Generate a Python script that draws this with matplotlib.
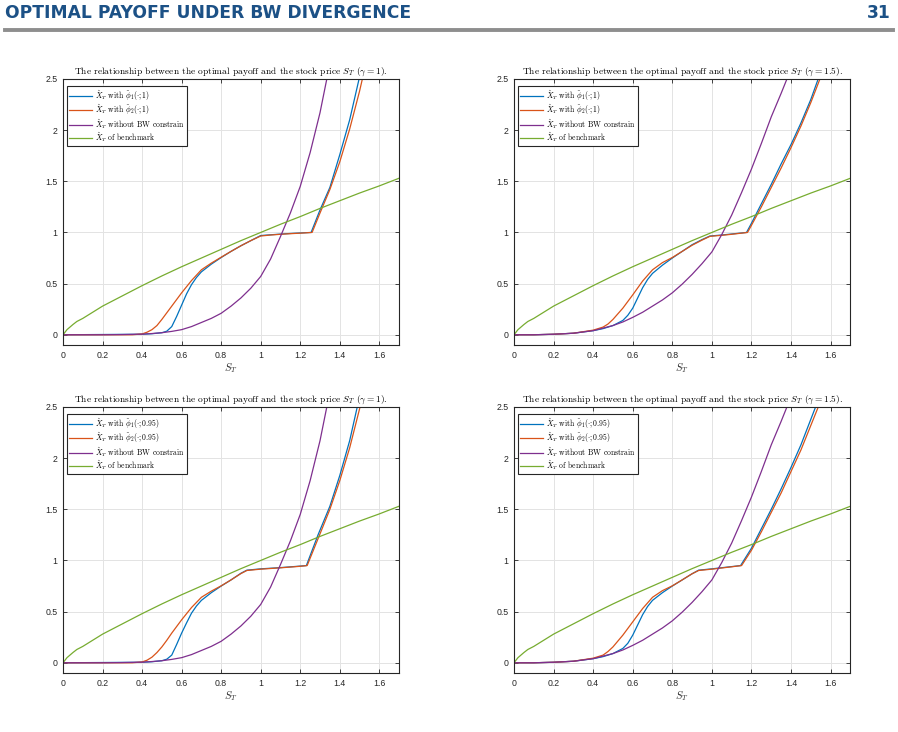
import numpy as np
import matplotlib
matplotlib.use('Agg')
import matplotlib.pyplot as plt
from matplotlib.lines import Line2D

plt.rcParams['mathtext.fontset'] = 'cm'

# benchmark payoff (same in all four panels)
bench_x = [0, 0.02, 0.05, 0.07, 0.1, 0.15, 0.2, 0.3, 0.4, 0.5, 0.6, 0.7, 0.8, 0.9, 1.0,
           1.1, 1.2, 1.3, 1.4, 1.5, 1.6, 1.7]
bench_y = [0, 0.05, 0.10, 0.13, 0.16, 0.22, 0.28, 0.38, 0.48, 0.575, 0.665, 0.75, 0.835,
           0.92, 1.0, 1.08, 1.155, 1.235, 1.31, 1.385, 1.455, 1.53]

# payoff without BW constraint, gamma = 1 and gamma = 1.5
free1_x = [0, 0.2, 0.3, 0.4, 0.45, 0.5, 0.55, 0.6, 0.65, 0.7, 0.75, 0.8, 0.85, 0.9, 0.95, 1.0,
           1.05, 1.1, 1.15, 1.2, 1.25, 1.3, 1.35]
free1_y = [0, 0.0, 0.002, 0.006, 0.012, 0.02, 0.033, 0.05, 0.08, 0.12, 0.16, 0.21, 0.28, 0.36,
           0.455, 0.57, 0.74, 0.96, 1.19, 1.45, 1.78, 2.17, 2.65]
free2_x = [0, 0.1, 0.2, 0.3, 0.4, 0.5, 0.55, 0.6, 0.65, 0.7, 0.75, 0.8, 0.85, 0.9, 0.95, 1.0,
           1.05, 1.1, 1.15, 1.2, 1.25, 1.3, 1.35, 1.4]
free2_y = [0, 0.0, 0.005, 0.015, 0.04, 0.09, 0.125, 0.17, 0.22, 0.28, 0.34, 0.41, 0.495, 0.59,
           0.695, 0.81, 0.98, 1.17, 1.39, 1.62, 1.87, 2.13, 2.36, 2.6]

# gamma = 1, level 1
b1_x = [0, 0.4, 0.45, 0.5, 0.525, 0.55, 0.575, 0.6, 0.625, 0.65, 0.675, 0.7, 0.75, 0.8, 0.85,
        0.9, 0.95, 1.0, 1.05, 1.1, 1.15, 1.2, 1.255, 1.3, 1.35, 1.4, 1.45, 1.5]
b1_y = [0, 0.005, 0.01, 0.02, 0.035, 0.08, 0.18, 0.29, 0.40, 0.49, 0.56, 0.615, 0.69, 0.755,
        0.815, 0.87, 0.92, 0.97, 0.977, 0.984, 0.99, 0.995, 1.0, 1.22, 1.44, 1.76, 2.1, 2.52]
o1_x = [0, 0.35, 0.4, 0.425, 0.45, 0.475, 0.5, 0.525, 0.55, 0.6, 0.65, 0.7, 0.75, 0.8, 0.85,
        0.9, 0.95, 1.0, 1.05, 1.1, 1.15, 1.2, 1.26, 1.3, 1.35, 1.4, 1.45, 1.5, 1.55]
o1_y = [0, 0.0, 0.008, 0.025, 0.05, 0.09, 0.15, 0.215, 0.28, 0.41, 0.53, 0.635, 0.70, 0.758,
        0.815, 0.87, 0.92, 0.965, 0.975, 0.982, 0.988, 0.993, 1.0, 1.19, 1.42, 1.69, 2.01, 2.38,
        2.8]

# gamma = 1.5, level 1
b2_x = [0, 0.1, 0.2, 0.3, 0.4, 0.45, 0.5, 0.55, 0.575, 0.6, 0.625, 0.65, 0.675, 0.7, 0.75,
        0.8, 0.85, 0.9, 0.95, 0.99, 1.05, 1.1, 1.175, 1.2, 1.25, 1.3, 1.35, 1.4, 1.45, 1.5, 1.55]
b2_y = [0, 0, 0.005, 0.015, 0.04, 0.06, 0.09, 0.14, 0.19, 0.26, 0.36, 0.46, 0.54, 0.6, 0.68,
        0.75, 0.815, 0.88, 0.93, 0.965, 0.975, 0.985, 1.0, 1.09, 1.28, 1.47, 1.67, 1.86, 2.07,
        2.3, 2.57]
o2_x = [0, 0.1, 0.2, 0.3, 0.4, 0.45, 0.475, 0.5, 0.55, 0.6, 0.65, 0.7, 0.75, 0.8, 0.85, 0.9,
        0.95, 0.99, 1.05, 1.1, 1.18, 1.2, 1.25, 1.3, 1.35, 1.4, 1.45, 1.5, 1.55, 1.6]
o2_y = [0, 0, 0.005, 0.015, 0.045, 0.075, 0.105, 0.15, 0.26, 0.39, 0.525, 0.635, 0.705, 0.755,
        0.815, 0.875, 0.925, 0.962, 0.972, 0.982, 1.0, 1.07, 1.25, 1.44, 1.63, 1.83, 2.04, 2.27,
        2.52, 2.8]

# gamma = 1, level 0.95
b3_x = [0, 0.4, 0.45, 0.5, 0.525, 0.55, 0.575, 0.6, 0.625, 0.65, 0.675, 0.7, 0.75, 0.8, 0.85,
        0.9, 0.93, 1.0, 1.1, 1.2, 1.231, 1.29, 1.35, 1.4, 1.45, 1.5]
b3_y = [0, 0.005, 0.01, 0.02, 0.035, 0.075, 0.18, 0.29, 0.39, 0.485, 0.555, 0.61, 0.685, 0.75,
        0.81, 0.875, 0.905, 0.918, 0.93, 0.945, 0.95, 1.25, 1.53, 1.83, 2.17, 2.6]
o3_x = [0, 0.35, 0.4, 0.425, 0.45, 0.475, 0.5, 0.525, 0.55, 0.6, 0.65, 0.7, 0.75, 0.8, 0.85,
        0.9, 0.93, 1.0, 1.1, 1.2, 1.235, 1.3, 1.35, 1.4, 1.45, 1.5, 1.55]
o3_y = [0, 0, 0.008, 0.025, 0.055, 0.1, 0.155, 0.22, 0.29, 0.42, 0.54, 0.64, 0.7, 0.752, 0.81,
        0.872, 0.902, 0.915, 0.928, 0.943, 0.95, 1.26, 1.5, 1.78, 2.1, 2.48, 2.9]

# gamma = 1.5, level 0.95
b4_x = [0, 0.1, 0.2, 0.3, 0.4, 0.45, 0.5, 0.55, 0.575, 0.6, 0.625, 0.65, 0.675, 0.7, 0.75,
        0.8, 0.85, 0.9, 0.933, 1.0, 1.1, 1.145, 1.2, 1.25, 1.3, 1.35, 1.4, 1.45, 1.5, 1.55]
b4_y = [0, 0, 0.005, 0.015, 0.04, 0.06, 0.09, 0.14, 0.19, 0.27, 0.37, 0.47, 0.55, 0.61, 0.685,
        0.75, 0.81, 0.87, 0.905, 0.918, 0.94, 0.95, 1.12, 1.31, 1.5, 1.7, 1.91, 2.13, 2.38, 2.63]
o4_x = [0, 0.1, 0.2, 0.3, 0.4, 0.45, 0.475, 0.5, 0.55, 0.6, 0.65, 0.7, 0.75, 0.8, 0.85, 0.9,
        0.933, 1.0, 1.1, 1.15, 1.2, 1.25, 1.3, 1.35, 1.4, 1.45, 1.5, 1.55, 1.6]
o4_y = [0, 0, 0.005, 0.015, 0.045, 0.075, 0.11, 0.155, 0.27, 0.40, 0.53, 0.64, 0.705, 0.752,
        0.81, 0.87, 0.902, 0.915, 0.938, 0.95, 1.1, 1.28, 1.47, 1.66, 1.87, 2.08, 2.32, 2.56, 2.82]

gammas = ['1', '1.5', '1', '1.5']
levels = ['1', '1', '0.95', '0.95']
blues = [(b1_x, b1_y), (b2_x, b2_y), (b3_x, b3_y), (b4_x, b4_y)]
oranges = [(o1_x, o1_y), (o2_x, o2_y), (o3_x, o3_y), (o4_x, o4_y)]
frees = [(free1_x, free1_y), (free2_x, free2_y), (free1_x, free1_y), (free2_x, free2_y)]

xticks = [0, 0.2, 0.4, 0.6, 0.8, 1, 1.2, 1.4, 1.6]
xticklabels = ['0', '0.2', '0.4', '0.6', '0.8', '1', '1.2', '1.4', '1.6']
yticks = [0, 0.5, 1, 1.5, 2, 2.5]
yticklabels = ['0', '0.5', '1', '1.5', '2', '2.5']

positions = [[0.0702, 0.5287, 0.3742, 0.3634], [0.5724, 0.5287, 0.3746, 0.3634],
             [0.0702, 0.0806, 0.3742, 0.3634], [0.5724, 0.0806, 0.3746, 0.3634]]

c_blue, c_orange, c_purple, c_green = '#0072BD', '#D95319', '#7E2F8E', '#77AC30'
axcol = '#262626'

fig = plt.figure(figsize=(8.98, 7.32), dpi=100)

# slide header
fig.text(0.006, 0.982, 'OPTIMAL PAYOFF UNDER BW DIVERGENCE', color='#1c5186',
         fontsize=12.3, fontweight='bold', family='DejaVu Sans', va='center', ha='left')
fig.text(0.992, 0.982, '31', color='#1c5186', fontsize=12.3, fontweight='bold',
         family='DejaVu Sans', va='center', ha='right')
fig.add_artist(Line2D([0.006, 0.994], [0.9585, 0.9585], color='#8e8e8e', lw=2.8))

for i in range(4):
    ax = fig.add_axes(positions[i])
    fx, fy = frees[i]
    bx, by = blues[i]
    ox, oy = oranges[i]
    lev = levels[i]
    ax.plot(bx, by, color=c_blue, lw=0.9,
            label=r'$\hat{X}_T$ with $\tilde{\phi}_1(\cdot;' + lev + ')$')
    ax.plot(ox, oy, color=c_orange, lw=0.9,
            label=r'$\hat{X}_T$ with $\tilde{\phi}_2(\cdot;' + lev + ')$')
    ax.plot(fx, fy, color=c_purple, lw=0.9, label=r'$\hat{X}_T$ without BW constrain')
    ax.plot(bench_x, bench_y, color=c_green, lw=0.9, label=r'$\hat{X}_T$ of benchmark')

    ax.set_xlim(0, 1.7)
    ax.set_ylim(-0.1, 2.5)
    ax.set_xticks(xticks)
    ax.set_xticklabels(xticklabels)
    ax.set_yticks(yticks)
    ax.set_yticklabels(yticklabels)
    ax.tick_params(direction='in', top=True, right=True, length=3, width=0.6,
                   color=axcol, labelcolor=axcol, labelsize=6.3, pad=4)
    for lab in ax.get_xticklabels() + ax.get_yticklabels():
        lab.set_family('Liberation Sans')
    for sp in ax.spines.values():
        sp.set_color(axcol)
        sp.set_linewidth(0.8)
    ax.grid(True, color='#e3e3e3', lw=0.7)
    ax.set_axisbelow(True)

    ax.set_title('The relationship between the optimal payoff and the stock price $S_T$ '
                 r'($\gamma = ' + gammas[i] + '$).', family='cmr10', fontsize=6.8, pad=3.5)
    ax.set_xlabel('$S_T$', fontsize=7.5, labelpad=1, color=axcol)

    leg = ax.legend(loc='upper left', bbox_to_anchor=(0.012, 0.974), borderaxespad=0,
                    prop={'family': 'cmr10', 'size': 5.5}, handlelength=3.0,
                    handletextpad=0.4, labelspacing=0.0, borderpad=0.3,
                    fancybox=False, framealpha=1)
    leg.get_frame().set_edgecolor(axcol)
    leg.get_frame().set_linewidth(0.8)

plt.savefig('out.png', dpi=100)
